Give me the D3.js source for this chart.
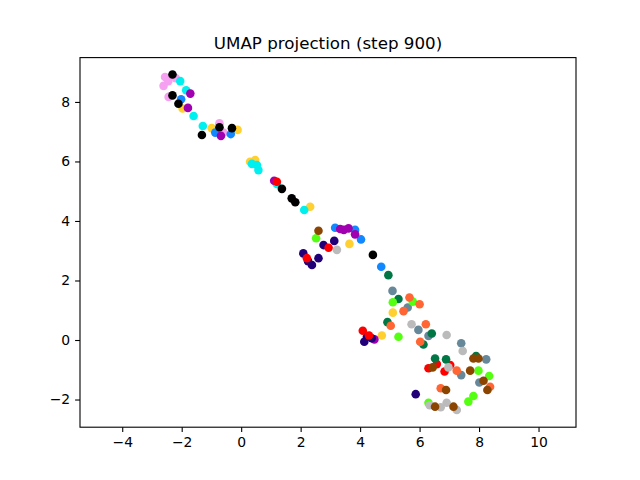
<!DOCTYPE html>
<html><head><meta charset="utf-8">
<script src="https://cdn.jsdelivr.net/npm/d3@7"></script>
<style>body{margin:0;background:#fff}svg{display:block}text{font-family:"DejaVu Sans",sans-serif}</style>
</head><body>
<script>
const palette = ["#000000","#f5a0f0","#00f0f0","#a000b0","#ffd030","#1188ff","#220077","#ff0000","#55ff11","#007744","#8b4500","#ff6633","#668899","#bbbbbb"];
const black = [[-2.31,8.92],[-2.31,8.22],[-2.11,7.94],[-1.32,6.89],[-0.73,7.15],[-0.31,7.12],[1.37,5.08],[1.70,4.76],[1.82,4.63],[4.43,2.86]];
const violet = [[-2.56,8.84],[-2.61,8.54],[-2.44,8.17],[-2.20,8.80],[-2.45,8.70],[-0.73,7.28],[-0.60,6.97]];
const cyan = [[-2.05,8.70],[-1.85,8.39],[-1.60,7.53],[-1.29,7.19],[0.36,5.92],[0.53,5.88],[0.58,5.71],[1.20,5.24],[2.12,4.37]];
const purple = [[-1.71,8.28],[-1.79,7.80],[-0.68,6.86],[1.11,5.35],[3.33,3.73],[3.61,3.75],[3.45,3.70],[3.83,3.55],[4.48,0.02]];
const gold = [[-1.97,7.78],[-0.99,7.12],[-0.12,7.06],[0.47,6.05],[0.30,5.99],[2.32,4.48],[3.64,3.23],[5.10,0.92],[4.73,0.15]];
const dodger = [[-2.02,8.09],[-0.87,6.97],[-0.35,6.92],[3.16,3.77],[3.83,3.70],[4.03,3.38],[4.71,2.46]];
const indigo = [[3.13,3.33],[2.77,3.19],[2.09,2.91],[2.60,2.75],[2.38,2.52],[2.25,2.65],[4.23,0.11],[4.39,0.06],[4.14,-0.06],[5.87,-1.82]];
const red = [[1.20,5.32],[2.94,3.10],[2.21,2.75],[4.09,0.31],[4.30,0.15],[6.58,-0.81],[6.30,-0.95],[6.84,-1.06],[7.03,-0.84]];
const lime = [[2.52,3.42],[5.10,1.27],[5.77,1.29],[5.29,0.11],[7.98,-1.03],[8.34,-1.21],[7.81,-1.88],[7.64,-2.07],[6.30,-2.11]];
const darkgreen = [[4.95,2.18],[5.29,1.38],[4.92,0.60],[6.41,0.22],[6.13,-0.15],[6.52,-0.62],[6.89,-0.65],[7.90,-0.54]];
const brown = [[2.60,3.67],[6.44,-0.92],[7.70,-1.03],[7.81,-0.62],[7.98,-0.62],[8.15,-1.37],[8.28,-1.68],[6.89,-1.68],[6.52,-2.24],[7.14,-2.24]];
const orange = [[5.66,1.43],[6.00,1.20],[5.46,0.97],[5.03,0.48],[6.21,0.53],[6.02,-0.06],[7.25,-1.03],[8.37,-1.57],[6.71,-1.62]];
const slate = [[5.09,1.65],[5.60,1.09],[5.96,0.34],[6.30,0.14],[7.40,-0.11],[8.24,-0.65],[7.40,-1.18],[8.01,-1.43]];
const silver = [[3.22,3.03],[5.73,0.53],[6.91,0.17],[7.45,-0.37],[6.97,-0.92],[6.34,-2.19],[6.71,-2.26],[6.91,-2.11],[7.25,-2.35]];
// drawing order (index into palette) : later groups drawn on top
const groups = [[1,violet],[4,gold],[5,dodger],[2,cyan],[3,purple],[6,indigo],[7,red],[12,slate],[9,darkgreen],[8,lime],[13,silver],[11,orange],[10,brown],[0,black]];
const xTicks = [-4,-2,0,2,4,6,8,10];
const yTicks = [-2,0,2,4,6,8];
const title = "UMAP projection (step 900)";

const W=640,H=480, L=80,R=576,T=57.6,B=427.2;
const svg = d3.select("body").append("svg").attr("width",W).attr("height",H);
const x = d3.scaleLinear().domain([-5.42,11.26]).range([L,R]);
const y = d3.scaleLinear().domain([-2.93,9.49]).range([B,T]);

const pts = [];
groups.forEach(([ci,g])=>g.forEach(p=>pts.push({x:p[0],y:p[1],c:ci})));
svg.append("g").selectAll("circle").data(pts).join("circle")
  .attr("cx",d=>x(d.x)).attr("cy",d=>y(d.y)).attr("r",4.3)
  .attr("fill",d=>palette[d.c]);

const fs = 13.9;
const xa = svg.append("g").attr("transform",`translate(0,${B})`)
  .call(d3.axisBottom(x).tickValues(xTicks).tickSize(4.9).tickPadding(4.9).tickSizeOuter(0));
const ya = svg.append("g").attr("transform",`translate(${L},0)`)
  .call(d3.axisLeft(y).tickValues(yTicks).tickSize(4.9).tickPadding(4.9).tickSizeOuter(0));
[xa,ya].forEach(a=>{
  a.select(".domain").remove();
  a.selectAll("line").attr("stroke","#000").attr("stroke-width",1.1);
  a.selectAll("text").attr("font-size",fs).attr("fill","#000").attr("font-family","DejaVu Sans");
});
svg.append("rect").attr("x",L).attr("y",T).attr("width",R-L).attr("height",B-T)
  .attr("fill","none").attr("stroke","#000").attr("stroke-width",1.1);
svg.append("text").attr("x",(L+R)/2).attr("y",T-8.5).attr("text-anchor","middle")
  .attr("font-size",16.7).attr("fill","#000").text(title);
</script>
</body></html>
